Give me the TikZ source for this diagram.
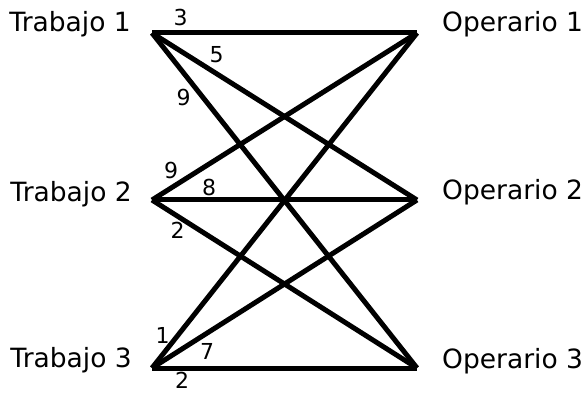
\documentclass[tikz,border=0pt]{standalone}
\usepackage{fontspec}
\setmainfont{DejaVu Sans}
\usepackage{tikz}
\usetikzlibrary{positioning}

\begin{document}
\begin{tikzpicture}[
    x=1pt, y=-1pt,
    lbl/.style={inner sep=0pt, font=\fontsize{26.5}{30}\selectfont},
    num/.style={inner sep=0pt, font=\fontsize{22}{26}\selectfont},
    edge/.style={line width=5pt},
]
    \useasboundingbox (0,0) rectangle (584,393);

    % Vertices
    \coordinate (t1) at (152,33);
    \coordinate (t2) at (152,200);
    \coordinate (t3) at (152,368);
    \coordinate (o1) at (417,33);
    \coordinate (o2) at (417,200);
    \coordinate (o3) at (417,368);

    % Names
    \node[lbl, anchor=base east] (trab1) at (131,32) {Trabajo 1};
    \node[lbl, anchor=base east] (trab2) at (132,201) {Trabajo 2};
    \node[lbl, anchor=base east] (trab3) at (132,367) {Trabajo 3};
    \node[lbl, anchor=base west] (oper1) at (442,32) {Operario 1};
    \node[lbl, anchor=base west] (oper2) at (442,200) {Operario 2};
    \node[lbl, anchor=base west] (oper3) at (442,368) {Operario 3};

    % Assignments
    \foreach \t in {1,2,3}{
        \foreach \o in {1,2,3}{
            \draw[edge] (t\t) -- (o\o);
        }
    }

    % Costs
    \node[num] (c11) at (180.5,17) {3};
    \node[num] (c12) at (216.5,54.5) {5};
    \node[num] (c13) at (183.5,97.5) {9};
    \node[num] (c21) at (171,170) {9};
    \node[num] (c22) at (209,187.5) {8};
    \node[num] (c23) at (177.5,230.5) {2};
    \node[num] (c31) at (162.5,335.5) {1};
    \node[num] (c32) at (207,351.5) {7};
    \node[num] (c33) at (182,380) {2};
\end{tikzpicture}
\end{document}
